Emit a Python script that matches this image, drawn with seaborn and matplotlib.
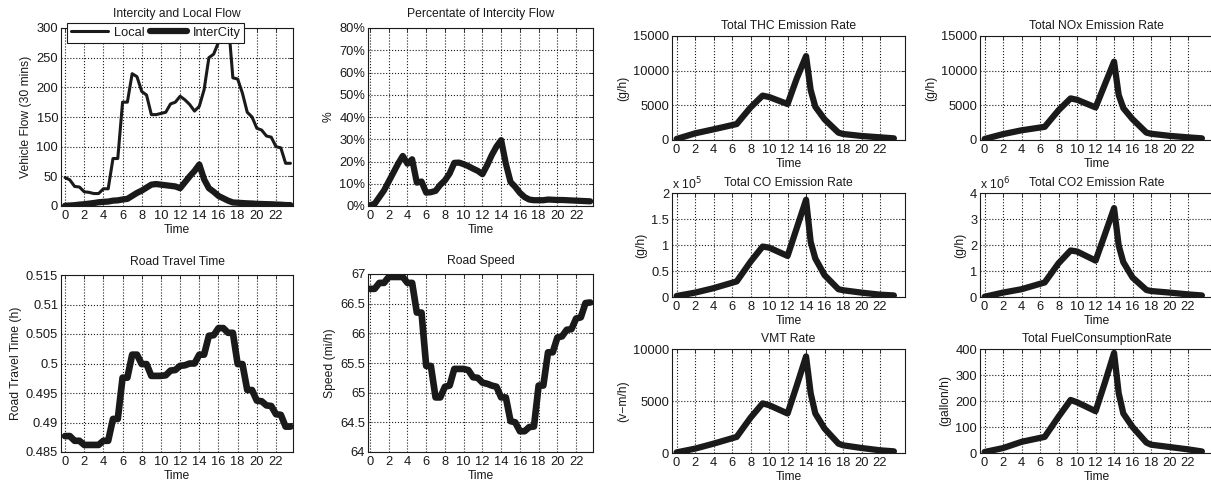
import numpy as np
import pandas as pd
import matplotlib
matplotlib.use("Agg")
import matplotlib.pyplot as plt
import seaborn as sns
from matplotlib.ticker import FuncFormatter

# ---------------- data ----------------
TIME = np.arange(0, 24, 0.5)  # half-hour steps 0 .. 23.5

local_flow = [48, 44, 33, 32, 24, 23, 21, 21, 29, 29, 80, 80, 175, 175, 223, 218,
              193, 187, 154, 154, 156, 158, 172, 175, 185, 179, 171, 160, 168, 196,
              250, 256, 276, 315, 315, 216, 214, 190, 158, 150, 131, 128, 118, 116,
              100, 98, 72, 72]
intercity_flow = [0.5, 0.8, 1.4, 2.3, 3, 4, 5, 6.3, 7, 7.5, 9, 9.5, 11, 12, 17, 22,
                  26, 31, 36, 37, 36, 35, 34, 33, 30, 40, 50, 59, 70, 45, 30, 24,
                  17, 13, 9, 6, 5.5, 5, 4.5, 4.2, 3.6, 3.4, 3.1, 2.9, 2.5, 2.2, 1.6, 1.5]
intercity_pct = [0.3, 1, 4, 7, 11, 15, 19, 22.5, 19, 21, 10.5, 11, 6, 6.2, 6.8, 9.5,
                 11.5, 14.6, 19.4, 19.5, 18.8, 17.9, 16.8, 15.8, 14.3, 18.3, 22.9, 26.7,
                 29.6, 19, 10.8, 8.6, 5.9, 4, 2.9, 2.6, 2.6, 2.6, 2.9, 2.8, 2.7, 2.7,
                 2.6, 2.5, 2.4, 2.3, 2.2, 2.1]
travel_time = [0.4877, 0.4877, 0.4869, 0.4869, 0.4862, 0.4862, 0.4862, 0.4862,
               0.4869, 0.4869, 0.4906, 0.4906, 0.4976, 0.4976, 0.5015, 0.5015,
               0.4999, 0.4999, 0.4979, 0.4979, 0.4979, 0.4980, 0.4988, 0.4989,
               0.4996, 0.4997, 0.5000, 0.5000, 0.5015, 0.5015, 0.5047, 0.5048,
               0.5060, 0.5060, 0.5052, 0.5052, 0.4999, 0.4999, 0.4955, 0.4955,
               0.4937, 0.4936, 0.4929, 0.4928, 0.4914, 0.4913, 0.4893, 0.4893]
road_speed = [66.75, 66.75, 66.85, 66.85, 66.95, 66.95, 66.95, 66.95, 66.85, 66.85,
              66.35, 66.35, 65.45, 65.45, 64.92, 64.92, 65.10, 65.12, 65.40, 65.40,
              65.40, 65.38, 65.26, 65.25, 65.17, 65.15, 65.12, 65.10, 64.92, 64.92,
              64.52, 64.50, 64.35, 64.35, 64.42, 64.43, 65.12, 65.12, 65.68, 65.68,
              65.93, 65.95, 66.06, 66.07, 66.25, 66.27, 66.51, 66.52]

EM_TIME = [0, 2, 4, 6.5, 8, 9.3, 10, 12, 13, 14, 14.5, 15, 16, 17.5, 18, 20, 22, 23.5]
thc = [150, 960, 1540, 2300, 4700, 6400, 6200, 5190, 8900, 12100, 7200, 4800, 2980,
       1060, 870, 580, 385, 240]
nox = [150, 850, 1400, 1900, 4300, 6000, 5800, 4700, 8000, 11300, 6500, 4600, 3000,
       1060, 900, 600, 380, 240]
co = [0.02e5, 0.084e5, 0.17e5, 0.30e5, 0.68e5, 0.97e5, 0.95e5, 0.79e5, 1.33e5, 1.87e5,
      1.06e5, 0.74e5, 0.42e5, 0.15e5, 0.13e5, 0.084e5, 0.045e5, 0.03e5]
co2 = [0.01e6, 0.17e6, 0.30e6, 0.56e6, 1.30e6, 1.79e6, 1.75e6, 1.40e6, 2.40e6, 3.42e6,
       1.98e6, 1.34e6, 0.75e6, 0.27e6, 0.23e6, 0.17e6, 0.10e6, 0.06e6]
vmt = [60, 420, 900, 1550, 3400, 4770, 4600, 3800, 6500, 9290, 5740, 3800, 2350, 900,
       740, 480, 260, 160]
fuel = [4, 19, 43, 62, 140, 204, 195, 161, 270, 385, 230, 152, 100, 40, 32, 23, 14, 6]

XTICKS = list(range(0, 23, 2))

# ---------------- style ----------------
sns.set_theme(style="white")
plt.rcParams["font.family"] = ["Liberation Sans", "DejaVu Sans"]
TXT = "#1a1a1a"
plt.rcParams["text.color"] = TXT
plt.rcParams["axes.labelcolor"] = TXT
plt.rcParams["xtick.color"] = TXT
plt.rcParams["ytick.color"] = TXT

TICK_FS = 9.3
LAB_FS = 8.7

W, H = 1211, 484
fig = plt.figure(figsize=(W / 100, H / 100), dpi=100)


def add_ax(l, r, t, b):
    return fig.add_axes([l / W, 1 - b / H, (r - l) / W, (b - t) / H])


def style(ax, xlim, ylim, yticks, title, ylabel, fmt=None, tpad=5):
    ax.set_xlim(xlim)
    ax.set_ylim(ylim)
    ax.set_xticks(XTICKS)
    ax.set_yticks(yticks)
    ax.grid(True, linestyle=":", color="k", linewidth=0.8)
    ax.tick_params(direction="in", top=True, right=True, length=3, width=0.6,
                   labelsize=TICK_FS, pad=2, colors=TXT)
    ax.tick_params(axis="x", pad=3)
    for s in ax.spines.values():
        s.set_color("k")
        s.set_linewidth(0.8)
    ax.set_title(title, fontsize=LAB_FS, pad=tpad)
    ax.set_xlabel("Time", fontsize=LAB_FS, labelpad=1.5)
    ax.set_ylabel(ylabel, fontsize=LAB_FS, labelpad=3)
    if fmt is not None:
        ax.yaxis.set_major_formatter(FuncFormatter(fmt))


g = lambda v, p: "%g" % v

# Panel 1: Intercity and Local Flow
ax1 = add_ax(61, 293, 28, 206)
sns.lineplot(x=TIME, y=local_flow, ax=ax1, color="k", linewidth=2.2, label="Local")
sns.lineplot(x=TIME, y=intercity_flow, ax=ax1, color="k", linewidth=4.5, label="InterCity")
style(ax1, (-0.42, 23.77), (0, 300), range(0, 301, 50), "Intercity and Local Flow",
      "Vehicle Flow (30 mins)", g, tpad=8)
leg = ax1.legend(loc="upper left", bbox_to_anchor=(0.026, 1.028), ncol=2, fontsize=TICK_FS,
                 handlelength=2.9, columnspacing=0.45, handletextpad=0.4, borderpad=0.3,
                 borderaxespad=0.0, fancybox=False, edgecolor="k", framealpha=1)
leg.get_frame().set_linewidth(0.8)
leg.set_zorder(10)

# Panel 2: Percentage
ax2 = add_ax(368, 593, 28, 206)
sns.lineplot(x=TIME, y=intercity_pct, ax=ax2, color="k", linewidth=4.5)
style(ax2, (-0.21, 23.8), (0, 80), range(0, 81, 10), "Percentate of Intercity Flow", "%",
      lambda v, p: "%d%%" % round(v), tpad=8)

# Panel 3: Road Travel Time
ax3 = add_ax(61, 293, 275, 452)
sns.lineplot(x=TIME, y=travel_time, ax=ax3, color="k", linewidth=4.8)
style(ax3, (-0.42, 23.77), (0.485, 0.515), np.linspace(0.485, 0.515, 7), "Road Travel Time",
      "Road Travel Time (h)", lambda v, p: "%g" % round(v, 4), tpad=7)

# Panel 4: Road Speed
ax4 = add_ax(368, 593, 274, 452)
sns.lineplot(x=TIME, y=road_speed, ax=ax4, color="k", linewidth=4.8)
style(ax4, (-0.21, 23.8), (64, 67), np.arange(64, 67.01, 0.5), "Road Speed", "Speed (mi/h)", g,
      tpad=7)

# Emission panels
EXL = (-0.5, 24.7)
panels = [
    ((672, 905, 36, 140), thc, (0, 15000), range(0, 15001, 5000), "Total THC Emission Rate", "(g/h)", g, None),
    ((980, 1213, 36, 140), nox, (0, 15000), range(0, 15001, 5000), "Total NOx Emission Rate", "(g/h)", g, None),
    ((672, 905, 193, 297), co, (0, 2e5), np.arange(0, 2.01e5, 0.5e5), "Total CO Emission Rate", "(g/h)",
     lambda v, p: "%g" % round(v / 1e5, 3), r"x 10$^{5}$"),
    ((980, 1213, 193, 297), co2, (0, 4e6), np.arange(0, 4.01e6, 1e6), "Total CO2 Emission Rate", "(g/h)",
     lambda v, p: "%g" % round(v / 1e6, 3), r"x 10$^{6}$"),
    ((672, 905, 349, 453), vmt, (0, 10000), range(0, 10001, 5000), "VMT Rate", "(v\u2212m/h)", g, None),
    ((980, 1213, 349, 453), fuel, (0, 400), range(0, 401, 100), "Total FuelConsumptionRate", "(gallon/h)", g, None),
]
for pos, vals, ylim, yt, title, ylab, fmt, mult in panels:
    ax = add_ax(*pos)
    sns.lineplot(x=EM_TIME, y=vals, ax=ax, color="k", linewidth=4.5)
    style(ax, EXL, ylim, yt, title, ylab, fmt, tpad=5)
    if mult:
        ax.text(0.0, 1.01, mult, transform=ax.transAxes, ha="left", va="bottom",
                fontsize=LAB_FS, color=TXT)

fig.savefig("out.png", dpi=100)
